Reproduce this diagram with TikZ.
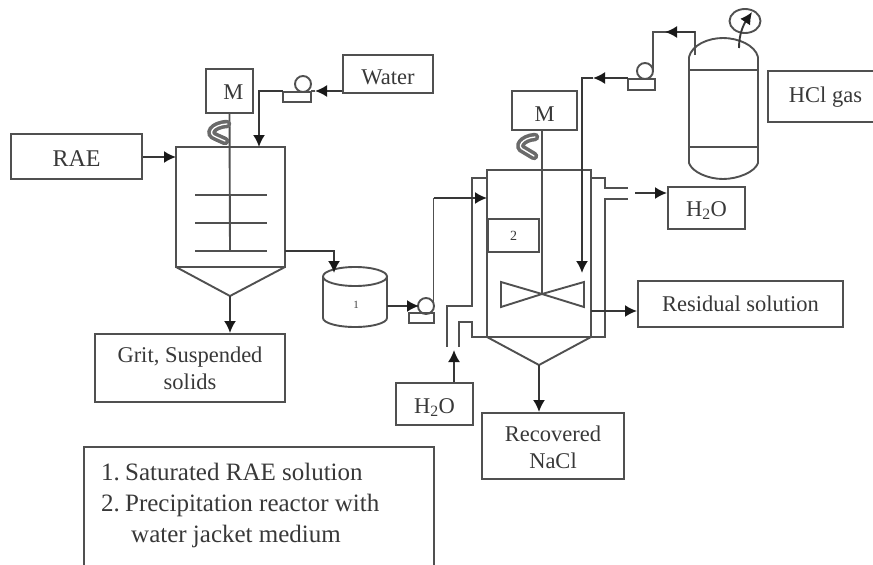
\documentclass[tikz,border=0pt]{standalone}
\usepackage{fontspec}
\setmainfont{Liberation Serif}
\usetikzlibrary{arrows.meta,shapes.geometric}
\definecolor{ink}{HTML}{505050}
\tikzset{
  x=1pt,y=-1pt,
  pipe/.style={line width=1.9pt,draw=ink,line join=miter},
  flow/.style={line width=1.9pt,draw=ink!70!black,-{Latex[length=12pt,width=12pt,color=black!90]}},
  labelbox/.style={draw=ink,line width=2pt,rectangle,inner sep=0pt,font=\fontsize{22.5}{26}\selectfont,text=black!78,align=center},
  rot/.style={line width=3.6pt,draw=ink!85,double=white,double distance=1.3pt,line cap=round},
}
\newcommand{\water}{H\textsubscript{2}O}
\newcommand{\boxat}[7][]{\node[labelbox,minimum width=#4-#3,minimum height=#6-#5,#1] (#2) at ({(#3+#4)/2},{(#5+#6)/2}) {#7};}
\begin{document}
\begin{tikzpicture}
\useasboundingbox (0,0) rectangle (873,565);
% label boxes
\boxat[font=\fontsize{24}{26}\selectfont,text height=19pt,text depth=0pt]{rae}{11}{142}{134}{179}{RAE}
\boxat[text height=21pt,text depth=0pt]{water}{343}{433}{55}{93}{Water}
\boxat[font=\fontsize{22.5}{27}\selectfont]{grit}{95}{285}{334}{402}{\rule{0pt}{17pt}Grit, Suspended\\solids}
\boxat[text height=17pt,text depth=0pt]{mone}{206}{253}{69}{113}{\hspace*{8pt}M}
\boxat[text height=21pt,text depth=0pt]{mtwo}{512}{577}{91}{130}{M}
\boxat[text height=17pt,text depth=5pt]{hcl}{768}{885}{71}{122}{HCl gas\hspace*{2pt}}
\boxat[text height=16pt,text depth=0pt]{hout}{668}{745}{187}{229}{\water}
\boxat[text height=18pt,text depth=0pt]{hin}{396}{473}{383}{425}{\water}
\boxat{resid}{638}{843}{281}{327}{Residual solution}
\boxat[font=\fontsize{22.5}{27}\selectfont]{nacl}{482}{624}{413}{479}{\rule{0pt}{19pt}Recovered\\NaCl}
\boxat[font=\fontsize{14}{14}\selectfont]{two}{488}{539}{219}{252}{2}
% left tank
\coordinate (ltl) at (176,147); \coordinate (ltr) at (285,147);
\coordinate (lbl) at (176,267); \coordinate (lbr) at (285,267);
\coordinate (lapex) at (230,296);
\draw[pipe] (ltl) -- (ltr) -- (lbr) -- (lbl) -- cycle;
\draw[pipe] (lbl) -- (lapex) -- (lbr);
\draw[pipe] (mone.south) -- (230,251);
\foreach \yy in {195,223,251} \draw[pipe] (195,\yy) -- (267,\yy);
\draw[rot] (227,124) .. controls (212,125) and (207,134) .. (216,137) -- (225,141);
% right tank
\coordinate (rtl) at (487,170); \coordinate (rtr) at (591,170);
\coordinate (rbl) at (487,337); \coordinate (rbr) at (591,337);
\coordinate (rapex) at (539,365);
\draw[pipe] (rtl) -- (rtr) -- (rbr) -- (rbl) -- cycle;
\draw[pipe] (rbl) -- (rapex) -- (rbr);
\draw[pipe] (mtwo.south -| 542,0) -- (542,294);
\coordinate (hub) at (542,294);
\draw[pipe] (hub) -- (501,282) -- (501,307) -- cycle;
\draw[pipe] (hub) -- (584,282) -- (584,307) -- cycle;
\draw[rot] (535,137) .. controls (522,138) and (516,147) .. (524,150) -- (534,156);
% jacket
\draw[pipe] (487,178) -- (472,178) -- (472,306) -- (447,306) -- (447,347);
\draw[pipe] (459,347) -- (459,322) -- (472,322) -- (472,337) -- (605,337) -- (605,199) -- (628,199);
\draw[pipe] (591,178) -- (605,178) -- (605,188) -- (628,188);
% cylinder
\coordinate (cyl) at (355,276.5);
\draw[pipe] (323,276.5) -- (323,318) arc[start angle=180,end angle=360,x radius=32,y radius=-9] -- (387,276.5);
\draw[pipe] (cyl) ellipse[x radius=32,y radius=9.5];
\node[font=\fontsize{11}{11}\selectfont,text=black!75] (one) at (356,305) {1};
% pumps
\draw[pipe] (303,84) circle[radius=8];
\draw[pipe] (283,92) rectangle (311,102);
\coordinate (pa) at (283,91); \coordinate (pae) at (311,91);
\draw[pipe] (426,306) circle[radius=8];
\draw[pipe] (409,313) rectangle (434,323);
\coordinate (pb) at (419,306);
\draw[pipe] (645,71) circle[radius=8];
\draw[pipe] (628,79) rectangle (655,90);
\coordinate (pc) at (628,78);
% HCl vessel
\coordinate (vt) at (723,38);
\draw[pipe] (689,57) .. controls (692,45) and (708,38) .. (723,38) .. controls (738,38) and (755,45) .. (758,57);
\draw[pipe] (689,57) -- (689,163) .. controls (692,172) and (708,179) .. (723,179) .. controls (738,179) and (755,172) .. (758,163) -- (758,57);
\draw[pipe] (689,70) -- (758,70);
\draw[pipe] (689,147) -- (758,147);
\draw[pipe] (745,21) ellipse[x radius=15.5,y radius=12];
\draw[flow] (739,48) .. controls (739,33) and (744,24) .. (752,12);
% connectors
\draw[flow] (rae.east |- 0,157) -- (ltl |- 0,157);
\draw[flow] (water.west |- 0,91) -- (315,91);
\draw[pipe] (315,91) -- (pae);
\draw[flow] (pa) -- (259,91) -- (259,147);
\draw[flow] (lapex) -- (grit.north -| lapex);
\draw[flow] (285,251) -- (334,251) -- (334,273);
\draw[flow] (387,306) -- (pb);
\draw[pipe] (433.5,310) -- (433.5,198);
\draw[flow] (433.5,198) -- (487,198);
\draw[flow] (pc) -- (593,78);
\draw[flow] (593,78) -- (582,78) -- (582,273);
\draw[pipe] (695,55) -- (695,32) -- (653,32) -- (653,71);
\draw[flow] (695,32) -- (665,32);
\draw[flow] (635,193) -- (hout.west |- 0,193);
\draw[flow] (591,311) -- (resid.west |- 0,311);
\draw[flow] (rapex) -- (nacl.north -| rapex);
\draw[flow] (hin.north -| 454,0) -- (454,350);
% legend
\draw[pipe] (84,567) -- (84,447) -- (434,447) -- (434,567);
\node[anchor=north west,align=left,inner sep=0pt,font=\fontsize{25}{31}\selectfont,text=black!78] (legend) at (101,463) {1.\hspace{5.2pt}Saturated RAE solution\\2.\hspace{5.2pt}Precipitation reactor with\\\hspace*{30pt}water jacket medium};
\end{tikzpicture}
\end{document}
